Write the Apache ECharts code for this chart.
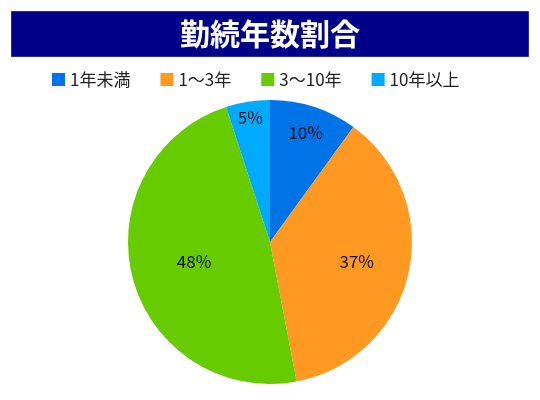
<!DOCTYPE html>
<html>
<head>
<meta charset="utf-8">
<script src="https://cdn.jsdelivr.net/npm/echarts@6/dist/echarts.min.js"></script>
<style>
  html, body { margin: 0; padding: 0; background: #fff; }
  #chart { width: 540px; height: 400px; }
</style>
</head>
<body>
<div id="chart"></div>
<script>
const titleText = '勤続年数割合';
const categories = ['1年未満', '1～3年', '3～10年', '10年以上'];
const shares = [10, 37, 48, 5];

const colors = ['#0073e6', '#ff9922', '#66cc00', '#00aaff'];
// how far out each label sits, as a fraction of the radius
const labelReach = [0.78, 0.6, 0.53, 0.85];

const center = [270, 242];
const radius = 142;

const chart = echarts.init(document.getElementById('chart'));
chart.setOption({
  animation: false,
  color: colors,
  graphic: [{
    type: 'rect',
    left: 11,
    top: 11,
    shape: { width: 517, height: 45 },
    style: { fill: '#000088', stroke: '#2a2aa0', lineWidth: 1 },
    z: 0
  }],
  title: {
    text: titleText,
    left: 'center',
    top: 14,
    textStyle: {
      color: '#fff',
      fontSize: 30,
      fontWeight: 'bold',
      fontFamily: '"Noto Sans CJK JP", sans-serif'
    },
    z: 10
  },
  legend: {
    top: 66,
    left: 47,
    itemWidth: 13,
    itemHeight: 13,
    itemGap: 30,
    icon: 'rect',
    selectedMode: false,
    textStyle: {
      fontSize: 17,
      color: '#222',
      fontFamily: '"Noto Sans CJK JP", sans-serif'
    },
    data: categories
  },
  series: [{
    type: 'pie',
    center: center,
    radius: radius,
    startAngle: 90,
    clockwise: true,
    data: categories.map((name, i) => ({ name: name, value: shares[i] })),
    label: {
      position: 'inside',
      formatter: '{c}%',
      color: '#111',
      fontSize: 17,
      fontFamily: '"Noto Sans CJK JP", sans-serif'
    },
    labelLine: { show: false },
    labelLayout: function (params) {
      const r = params.labelRect;
      const cx = r.x + r.width / 2, cy = r.y + r.height / 2;
      // default inside label sits at half the radius
      const k = labelReach[params.dataIndex] / 0.5;
      return {
        x: center[0] + (cx - center[0]) * k,
        y: center[1] + (cy - center[1]) * k,
        align: 'center',
        verticalAlign: 'middle'
      };
    },
    itemStyle: { borderWidth: 0 },
    emphasis: { disabled: true }
  }]
});
</script>
</body>
</html>
